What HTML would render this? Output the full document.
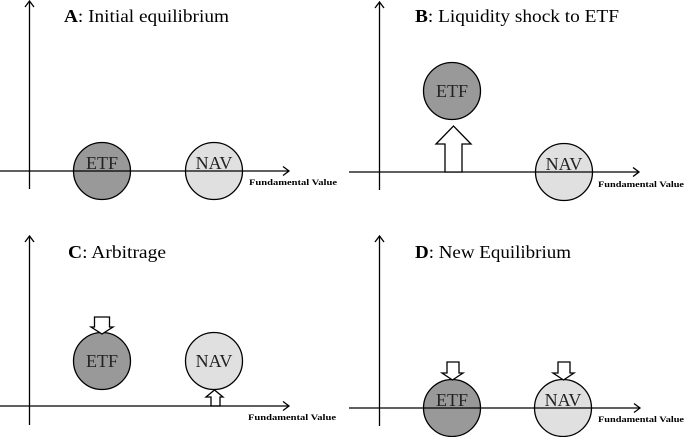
<!DOCTYPE html>
<html><head><meta charset="utf-8"><style>
html,body{margin:0;padding:0;background:#fff;}
svg{display:block;}
</style></head><body>
<svg width="685" height="437" viewBox="0 0 685 437" xmlns="http://www.w3.org/2000/svg" font-family="Liberation Serif, DejaVu Serif, serif">
<g stroke="#000" stroke-width="1.3" fill="none">
<!-- Panel A -->
<circle cx="102" cy="171" r="28.5" fill="#999"/>
<circle cx="214" cy="171" r="28.5" fill="#e0e0e0"/>
<line x1="29.5" y1="189" x2="29.5" y2="1"/><polyline points="25,7 29.5,1 34,7"/>
<line x1="0" y1="171" x2="289" y2="171"/><polyline points="283,166.5 289,171 283,175.5"/>
<!-- Panel B -->
<circle cx="452" cy="91" r="28.5" fill="#999"/>
<circle cx="564" cy="172" r="28.5" fill="#e0e0e0"/>
<line x1="379.5" y1="190" x2="379.5" y2="2"/><polyline points="375,8 379.5,2 384,8"/>
<line x1="349" y1="172" x2="639" y2="172"/><polyline points="633,167.5 639,172 633,176.5"/>
<polygon points="445,172 445,144 436,144 453.5,126 471,144 462,144 462,172" fill="#fff"/>
<!-- Panel C -->
<circle cx="102" cy="361" r="28.5" fill="#999"/>
<circle cx="214" cy="361" r="28.5" fill="#e0e0e0"/>
<line x1="29.5" y1="425" x2="29.5" y2="236"/><polyline points="25,242 29.5,236 34,242"/>
<polygon points="94.5,317 109.5,317 109.5,327 113,327 102,334 91,327 94.5,327" fill="#fff"/>
<polygon points="211,406 211,397 206,397 214.5,390 223,397 220,397 220,406" fill="#fff"/>
<line x1="0" y1="406" x2="289" y2="406"/><polyline points="283,401.5 289,406 283,410.5"/>
<!-- Panel D -->
<circle cx="452" cy="408" r="28.5" fill="#999"/>
<circle cx="563" cy="408" r="28.5" fill="#e0e0e0"/>
<line x1="379.5" y1="426" x2="379.5" y2="236"/><polyline points="375,242 379.5,236 384,242"/>
<line x1="349" y1="408" x2="640" y2="408"/><polyline points="634,403.5 640,408 634,412.5"/>
<polygon points="447,362 459,362 459,373 463,373 452.5,380 442,373 447,373" fill="#fff"/>
<polygon points="558,362 570,362 570,373 574,373 563.5,380 553,373 558,373" fill="#fff"/>
</g>
<g font-size="18" fill="#000" font-family="Liberation Serif, serif">
<text x="64" y="22" textLength="165" lengthAdjust="spacingAndGlyphs"><tspan font-weight="bold">A</tspan>: Initial equilibrium</text>
<text x="415" y="22" textLength="204" lengthAdjust="spacingAndGlyphs"><tspan font-weight="bold">B</tspan>: Liquidity shock to ETF</text>
<text x="68" y="258" textLength="98" lengthAdjust="spacingAndGlyphs"><tspan font-weight="bold">C</tspan>: Arbitrage</text>
<text x="415" y="258" textLength="156" lengthAdjust="spacingAndGlyphs"><tspan font-weight="bold">D</tspan>: New Equilibrium</text>
</g>
<g font-size="18" fill="#222" text-anchor="middle" font-family="Liberation Serif, serif">
<text x="102" y="169">ETF</text><text x="214" y="169">NAV</text>
<text x="452" y="97">ETF</text><text x="564" y="170">NAV</text>
<text x="102" y="367">ETF</text><text x="214" y="367">NAV</text>
<text x="452" y="406">ETF</text><text x="563" y="406">NAV</text>
</g>
<g font-size="8" font-weight="bold" fill="#000" font-family="Liberation Serif, serif">
<text x="249" y="185" textLength="88" lengthAdjust="spacingAndGlyphs">Fundamental Value</text>
<text x="598" y="187" textLength="86" lengthAdjust="spacingAndGlyphs">Fundamental Value</text>
<text x="248" y="420" textLength="88" lengthAdjust="spacingAndGlyphs">Fundamental Value</text>
<text x="598" y="422" textLength="86" lengthAdjust="spacingAndGlyphs">Fundamental Value</text>
</g>
</svg>
</body></html>
